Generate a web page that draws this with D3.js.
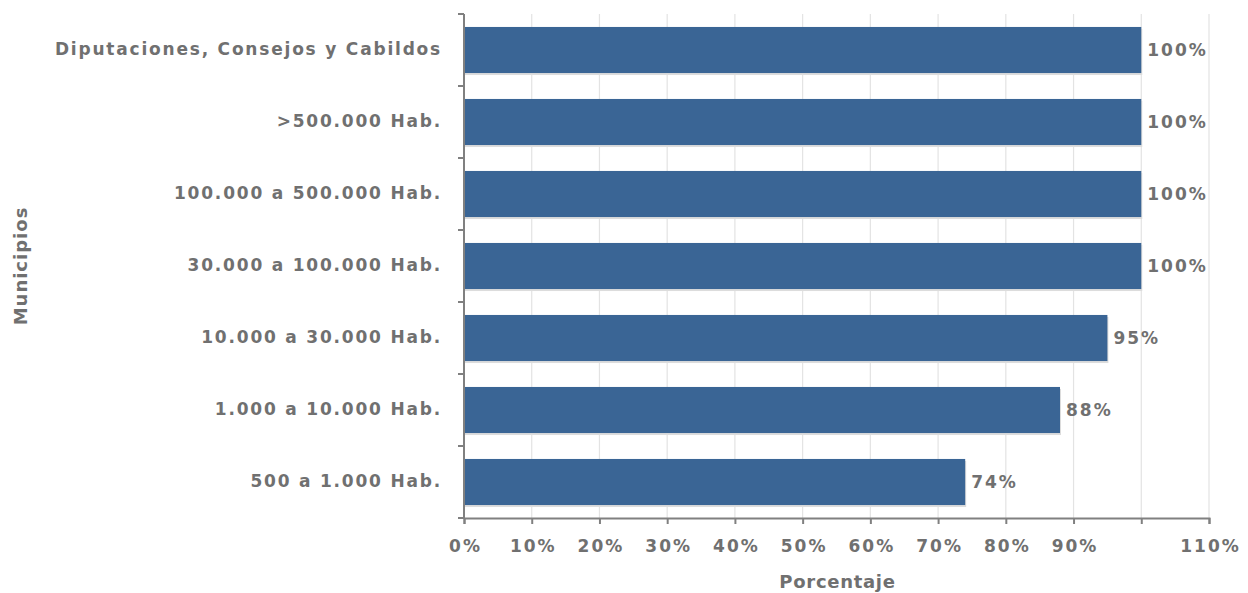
<!DOCTYPE html>
<html><head><meta charset="utf-8">
<script src="https://cdn.jsdelivr.net/npm/d3@7"></script>
<style>
body{margin:0;background:#fff;}
text{font-family:"DejaVu Sans",sans-serif;font-weight:bold;fill:#707070;}
</style></head>
<body><svg id="c" width="1248" height="593"></svg>
<script>
const categories = ["Diputaciones, Consejos y Cabildos", ">500.000 Hab.", "100.000 a 500.000 Hab.", "30.000 a 100.000 Hab.", "10.000 a 30.000 Hab.", "1.000 a 10.000 Hab.", "500 a 1.000 Hab."];
const values = [100, 100, 100, 100, 95, 88, 74];
const xTicks = [0, 10, 20, 30, 40, 50, 60, 70, 80, 90, 100, 110];
const xTickLabels = ["0%", "10%", "20%", "30%", "40%", "50%", "60%", "70%", "80%", "90%", "", "110%"];
const xTitle = "Porcentaje";
const yTitle = "Municipios";

const svg = d3.select("#c");
const m = {l:464, r:1209, t:14, b:518};
const x = d3.scaleLinear().domain([0,110]).range([m.l, m.r]);
const y = d3.scaleBand().domain(categories).range([m.t, m.b]).paddingInner(0.36).paddingOuter(0.18);

// grid
svg.append("g").selectAll("line").data(xTicks.filter(d=>d>0)).join("line")
  .attr("x1", d=>x(d)).attr("x2", d=>x(d)).attr("y1", m.t).attr("y2", m.b)
  .attr("stroke", "#e3e3e3").attr("stroke-width", 1.2);

// shadows
svg.append("g").selectAll("rect").data(values).join("rect")
  .attr("x", x(0)+1).attr("y", (d,i)=>y(categories[i])+2)
  .attr("width", d=>x(d)-x(0)).attr("height", y.bandwidth())
  .attr("fill", "#dcdcdc");
// bars
svg.append("g").selectAll("rect").data(values).join("rect")
  .attr("x", x(0)).attr("y", (d,i)=>y(categories[i]))
  .attr("width", d=>x(d)-x(0)).attr("height", y.bandwidth())
  .attr("fill", "#3a6595");

// value labels
svg.append("g").selectAll("text").data(values).join("text")
  .attr("x", d=>x(d)+6).attr("y", (d,i)=>y(categories[i])+y.bandwidth()/2)
  .attr("dy", "0.36em").attr("font-size", 17).attr("letter-spacing", "2px").text(d=>d+"%");

// x axis
const xa = svg.append("g").attr("transform", `translate(0,${m.b})`)
  .call(d3.axisBottom(x).tickValues(xTicks).tickSize(6).tickPadding(16)
    .tickFormat((d,i)=>xTickLabels[i]));
xa.select(".domain").attr("stroke", "#808080").attr("stroke-width", 2);
xa.selectAll(".tick line").attr("stroke", "#808080").attr("stroke-width", 2);
xa.selectAll("text").attr("font-size", 17).attr("font-family", "DejaVu Sans").attr("fill", "#707070")
  .attr("letter-spacing", "2px").attr("dx", "1px");

// y axis
const ya = svg.append("g").attr("transform", `translate(${m.l},0)`)
  .call(d3.axisLeft(y).tickSize(0).tickPadding(22));
ya.select(".domain").remove();
ya.selectAll("text").attr("font-size", 17).attr("font-family", "DejaVu Sans").attr("fill", "#707070")
  .attr("letter-spacing", "1.8px");
// y axis line and boundary ticks
svg.append("line").attr("x1", m.l).attr("x2", m.l).attr("y1", m.t).attr("y2", m.b)
  .attr("stroke", "#808080").attr("stroke-width", 2);
const bounds = d3.range(categories.length+1);
svg.append("g").selectAll("line").data(bounds).join("line")
  .attr("x1", m.l-6).attr("x2", m.l)
  .attr("y1", i=>m.t + (m.b-m.t)*i/categories.length).attr("y2", i=>m.t + (m.b-m.t)*i/categories.length)
  .attr("stroke", "#808080").attr("stroke-width", 2);

// titles
svg.append("text").attr("x", (m.l+m.r)/2 + 1).attr("y", 588).attr("text-anchor","middle")
  .attr("font-size", 18).attr("letter-spacing", "0.7px").text(xTitle);
svg.append("text").attr("transform", `translate(27,${(m.t+m.b)/2}) rotate(-90)`)
  .attr("text-anchor","middle").attr("font-size", 18).attr("letter-spacing", "1px").text(yTitle);
</script></body></html>
